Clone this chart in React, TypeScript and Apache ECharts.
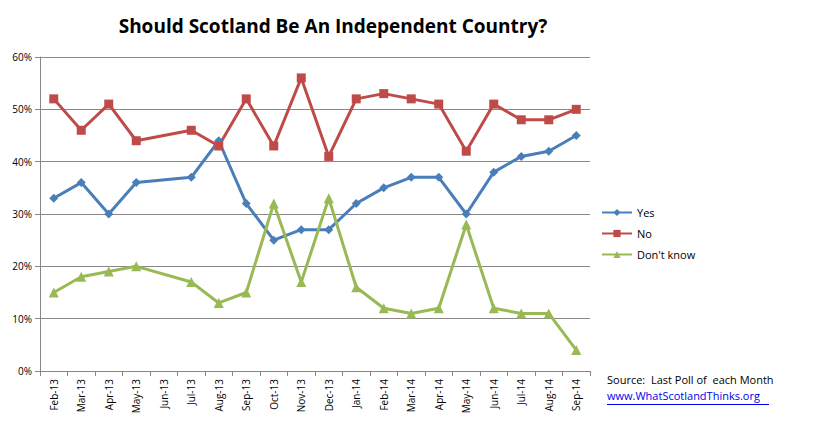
import React, { useEffect, useRef } from 'react'
import * as echarts from 'echarts'

const months = ['Feb-13', 'Mar-13', 'Apr-13', 'May-13', 'Jun-13', 'Jul-13', 'Aug-13', 'Sep-13', 'Oct-13', 'Nov-13', 'Dec-13', 'Jan-14', 'Feb-14', 'Mar-14', 'Apr-14', 'May-14', 'Jun-14', 'Jul-14', 'Aug-14', 'Sep-14']
const yes = [33, 36, 30, 36, null, 37, 44, 32, 25, 27, 27, 32, 35, 37, 37, 30, 38, 41, 42, 45]
const no = [52, 46, 51, 44, null, 46, 43, 52, 43, 56, 41, 52, 53, 52, 51, 42, 51, 48, 48, 50]
const dontKnow = [15, 18, 19, 20, null, 17, 13, 15, 32, 17, 33, 16, 12, 11, 12, 28, 12, 11, 11, 4]

const font = 'Open Sans, Liberation Sans, sans-serif'

const App = () => {
  const chartRef = useRef<HTMLDivElement>(null)

  useEffect(() => {
    const chart = echarts.init(chartRef.current!, null, { renderer: 'svg' })
    const line = (name: string, data: (number | null)[], color: string, symbol: string, size: number) => ({
      name, type: 'line', data, connectNulls: true, symbol, symbolSize: size,
      itemStyle: { color }, lineStyle: { color, width: 3 },
    })
    chart.setOption({
      animation: false,
      backgroundColor: '#fff',
      textStyle: { fontFamily: font },
      title: {
        text: 'Should Scotland Be An Independent Country?',
        left: 320, top: 3, textAlign: 'center',
        textStyle: { fontSize: 19, fontWeight: 'bold', color: '#000', fontFamily: font },
      },
      grid: { left: 32, right: 236, top: 49, bottom: 51, containLabel: false },
      legend: {
        orient: 'vertical', left: 588, top: 194, itemGap: 10,
        itemWidth: 30, itemHeight: 9,
        textStyle: { fontSize: 11, color: '#000' },
        data: ['Yes', 'No', "Don't know"],
      },
      xAxis: {
        type: 'category', data: months, boundaryGap: true,
        axisLine: { lineStyle: { color: '#888' } },
        axisTick: { show: true, alignWithLabel: false, lineStyle: { color: '#888' } },
        axisLabel: { rotate: 90, fontSize: 10, color: '#000', interval: 0 },
      },
      yAxis: {
        type: 'value', min: 0, max: 60, interval: 10,
        axisLabel: { formatter: '{value}%', fontSize: 10, color: '#000' },
        axisLine: { show: true, lineStyle: { color: '#888' } },
        axisTick: { show: true, lineStyle: { color: '#888' } },
        splitLine: { lineStyle: { color: '#888' } },
      },
      graphic: [
        { type: 'text', left: 599, top: 366, style: { text: 'Source:  Last Poll of  each Month', fontSize: 11, fill: '#000', fontFamily: font } },
        { type: 'text', left: 599, top: 382, style: { text: 'www.WhatScotlandThinks.org', fontSize: 11, fill: '#0000ee', fontFamily: font } },
        { type: 'rect', left: 599, top: 396, shape: { width: 162, height: 1 }, style: { fill: '#0000ee' } },
      ],
      series: [
        line('Yes', yes, '#4a7ebb', 'diamond', 9),
        line('No', no, '#be4b48', 'rect', 9),
        line("Don't know", dontKnow, '#98b954', 'triangle', 10),
      ],
    })
    return () => chart.dispose()
  }, [])

  return <div ref={chartRef} style={{ width: 818, height: 414 }} />
}

export default App
